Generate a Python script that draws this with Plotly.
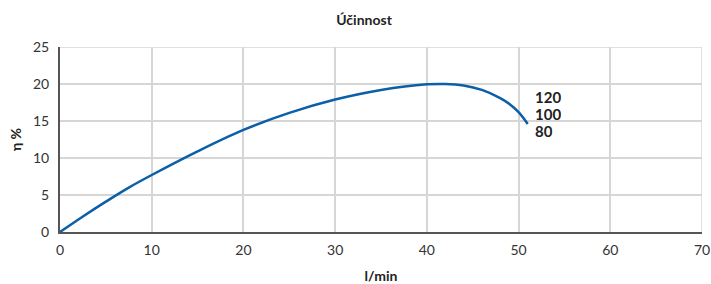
import plotly.graph_objects as go

flow = [0, 2.5, 5, 7.5, 10, 15, 20, 25, 30, 35, 40, 42, 44, 46, 48, 49, 50, 51]
eta = [0, 2.1, 4.1, 6.0, 7.7, 10.9, 13.8, 16.1, 17.9, 19.2, 19.95, 20.0, 19.8, 19.2, 18.1, 17.3, 16.2, 14.6]

speed_labels = ["120", "100", "80"]
label_x = [51.6, 51.6, 51.6]
label_y = [18.2, 15.9, 13.6]

fig = go.Figure()
fig.add_trace(go.Scatter(x=flow, y=eta, mode="lines", line=dict(color="#0b5ea8", width=2.5, shape="spline"),
                         hoverinfo="skip", showlegend=False))

for t, lx, ly in zip(speed_labels, label_x, label_y):
    fig.add_annotation(x=lx, y=ly, text="<b>%s</b>" % t, showarrow=False, xanchor="left", yanchor="middle",
                       height=16, font=dict(family="Lato, sans-serif", size=15, color="#222"))

fig.update_layout(
    width=711, height=284,
    margin=dict(l=60, r=9, t=47, b=52),
    paper_bgcolor="white", plot_bgcolor="white",
    title=dict(text="<b>Účinnost</b>", x=0.512, xanchor="center", y=0.93, yanchor="middle",
               font=dict(family="Lato, sans-serif", size=14, color="#222")),
    font=dict(family="Lato, sans-serif", size=14, color="#333"),
    xaxis=dict(range=[0, 70], dtick=10, tick0=0, showgrid=True, gridcolor="#d6d6d6", gridwidth=1.5,
               showline=True, linecolor="#555", linewidth=2, mirror=False, zeroline=False,
               ticks="", ticklabelstandoff=4, automargin=False,
               title=dict(text="<b>l/min</b>", standoff=14, font=dict(size=14, color="#222"))),
    yaxis=dict(range=[0, 25], dtick=5, tick0=0, showgrid=True, gridcolor="#d6d6d6", gridwidth=1.5,
               showline=True, linecolor="#555", linewidth=2, zeroline=False,
               ticks="", ticklabelstandoff=6, automargin=False,
               title=dict(text="<b>η %</b>", standoff=8, font=dict(size=14, color="#222"))),
    shapes=[
        dict(type="line", xref="x", yref="paper", x0=70, x1=70, y0=0, y1=1, line=dict(color="#d6d6d6", width=1.5), layer="below"),
        dict(type="line", xref="paper", yref="y", x0=0, x1=1, y0=25, y1=25, line=dict(color="#d6d6d6", width=1.5), layer="below"),
    ],
)

fig.write_html("out.html", config={"displayModeBar": False},
               post_script="document.body.style.margin='0';document.body.style.overflow='hidden';")
